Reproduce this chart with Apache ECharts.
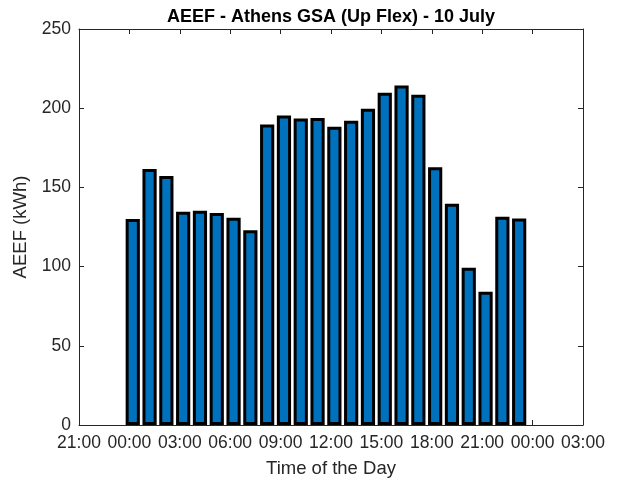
<!DOCTYPE html>
<html>
<head>
<meta charset="utf-8">
<script src="https://cdn.jsdelivr.net/npm/echarts@6/dist/echarts.min.js"></script>
<style>
html,body{margin:0;padding:0;background:#fff;}
#chart{width:618px;height:483px;}
</style>
</head>
<body>
<div id="chart"></div>
<script>
// Hour of day for each bar (bars sit slightly after the hour mark)
var hours = [0,1,2,3,4,5,6,7,8,9,10,11,12,13,14,15,16,17,18,19,20,21,22,23];
var hourOffset = 0.2;
var aeef = [130,161.6,157.2,134.7,135.3,133.8,130.9,122.9,189.7,195.4,193.5,193.8,188.3,192,199.7,209.8,214.4,208.5,162.7,139.7,99.3,84.2,131.5,130.4];
var xMin = -3, xMax = 27, xStep = 3;
var yMin = 0, yMax = 250, yStep = 50;

var textColor = '#262626';
var font = 'Liberation Sans, Arial, Helvetica, sans-serif';

function fmtHour(v){
  var h = ((Math.round(v) % 24) + 24) % 24;
  return (h < 10 ? '0' : '') + h + ':00';
}

var chart = echarts.init(document.getElementById('chart'), null, {renderer:'canvas'});
var grid = {left:79, right:35, top:29, bottom:58, containLabel:false};
var axisLine = {show:true, onZero:false, lineStyle:{color:textColor, width:1}};
var tick = {show:true, inside:true, length:5, lineStyle:{color:textColor, width:1}};

chart.setOption({
  animation:false,
  backgroundColor:'#fff',
  title:{
    text:'AEEF - Athens GSA (Up Flex) - 10 July',
    left:326, top:3, textAlign:'center',
    textStyle:{fontFamily:font, fontSize:18, fontWeight:'bold', color:'#000'}
  },
  grid:grid,
  xAxis:[{
    type:'value', min:xMin, max:xMax, interval:xStep, position:'bottom',
    name:'Time of the Day', nameLocation:'middle', nameGap:34,
    nameTextStyle:{fontFamily:font, fontSize:18.5, color:textColor},
    axisLine:axisLine, axisTick:tick, splitLine:{show:false},
    axisLabel:{formatter:fmtHour, fontFamily:font, fontSize:17.5, color:textColor, margin:9}
  },{
    type:'value', min:xMin, max:xMax, interval:xStep, position:'top',
    axisLine:axisLine, axisTick:tick, splitLine:{show:false}, axisLabel:{show:false}
  }],
  yAxis:[{
    type:'value', min:yMin, max:yMax, interval:yStep, position:'left',
    name:'AEEF (kWh)', nameLocation:'middle', nameGap:46, nameRotate:90,
    nameTextStyle:{fontFamily:font, fontSize:18.5, color:textColor},
    axisLine:axisLine, axisTick:tick, splitLine:{show:false},
    axisLabel:{fontFamily:font, fontSize:17.5, color:textColor, margin:8}
  },{
    type:'value', min:yMin, max:yMax, interval:yStep, position:'right',
    axisLine:axisLine, axisTick:tick, splitLine:{show:false}, axisLabel:{show:false}
  }],
  series:[{
    type:'bar',
    xAxisIndex:0, yAxisIndex:0,
    barWidth:14.2,
    data:hours.map(function(h,i){return [h + hourOffset, aeef[i]];}),
    itemStyle:{color:'#0072BD', borderColor:'#000', borderWidth:3},
    z:1
  }]
});
</script>
</body>
</html>
